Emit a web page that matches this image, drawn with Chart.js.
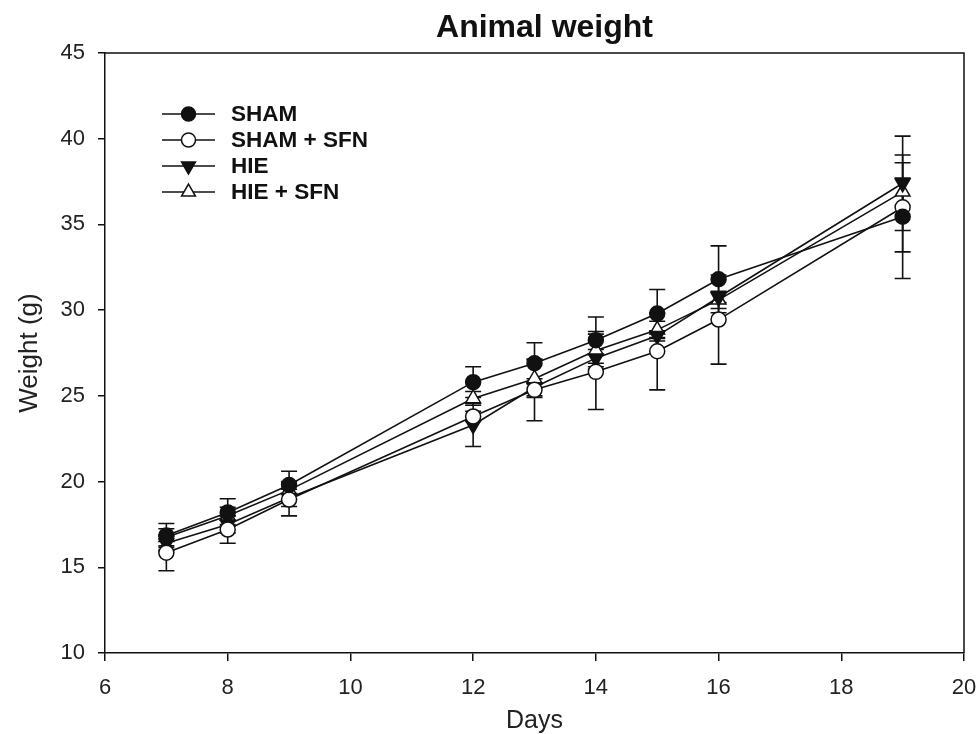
<!DOCTYPE html>
<html>
<head>
<meta charset="utf-8">
<title>Animal weight</title>
<script src="https://cdn.jsdelivr.net/npm/chart.js@4.4.1/dist/chart.umd.min.js"></script>
<style>
  html, body { margin: 0; padding: 0; background: #fff; }
  #wrap { width: 979px; height: 734px; position: relative; }
</style>
</head>
<body>
<div id="wrap"><canvas id="weightChart"></canvas></div>
<script>
const days = [7, 8, 9, 12, 13, 14, 15, 16, 19];

const sham = [16.85, 18.2, 19.8, 25.8, 26.9, 28.25, 29.8, 31.8, 35.45];
const shamSd = [0.7, 0.8, 0.8, 0.9, 1.2, 1.35, 1.4, 1.95, 3.6];

const shamSfn = [15.85, 17.2, 18.95, 23.8, 25.35, 26.4, 27.6, 29.45, 36.0];
const shamSfnSd = [1.05, 0.8, 0.95, 0.3, 1.8, 2.2, 2.25, 2.6, 2.6];

const hie = [16.4, 17.5, 19.05, 23.3, 25.5, 27.2, 28.5, 30.75, 37.4];
const hieSd = [0.4, 0.5, 0.5, 1.25, 0.5, 0.5, 0.3, 0.3, 2.75];

const hieSfn = [16.75, 18.0, 19.5, 24.85, 26.0, 27.65, 28.85, 30.6, 36.9];
const hieSfnSd = [0.5, 0.5, 0.5, 0.4, 1.1, 1.1, 0.5, 0.5, 0.8];

const xTicks = [6, 8, 10, 12, 14, 16, 18, 20];
const yTicks = [10, 15, 20, 25, 30, 35, 40, 45];

const FONT = "'Liberation Sans', Arial, Helvetica, sans-serif";
const INK = "#111";

function series(label, values, sd, style) {
  return Object.assign({
    label: label,
    data: days.map((d, i) => ({ x: d, y: values[i] })),
    sd: sd,
    borderColor: INK,
    borderWidth: 1.6,
    tension: 0,
    pointBorderColor: INK,
    pointBorderWidth: 1.5,
    pointHoverRadius: 7
  }, style);
}

// vertical SD bars with caps, drawn under the lines and symbols
const errorBars = {
  id: "errorBars",
  beforeDatasetsDraw(chart) {
    const { ctx, scales: { x, y } } = chart;
    ctx.save();
    ctx.strokeStyle = INK;
    ctx.lineWidth = 1.6;
    chart.data.datasets.forEach((ds, i) => {
      if (!chart.isDatasetVisible(i)) return;
      ds.data.forEach((p, j) => {
        const px = x.getPixelForValue(p.x);
        const hi = y.getPixelForValue(p.y + ds.sd[j]);
        const lo = y.getPixelForValue(p.y - ds.sd[j]);
        ctx.beginPath();
        ctx.moveTo(px, hi); ctx.lineTo(px, lo);
        ctx.moveTo(px - 8, hi); ctx.lineTo(px + 8, hi);
        ctx.moveTo(px - 8, lo); ctx.lineTo(px + 8, lo);
        ctx.stroke();
      });
    });
    ctx.restore();
  }
};

// closes the plot box on the top and right sides
const frame = {
  id: "frame",
  beforeDatasetsDraw(chart) {
    const { ctx, chartArea: a } = chart;
    ctx.save();
    ctx.strokeStyle = INK;
    ctx.lineWidth = 1.5;
    ctx.beginPath();
    ctx.moveTo(a.left, a.top);
    ctx.lineTo(a.right, a.top);
    ctx.lineTo(a.right, a.bottom);
    ctx.stroke();
    ctx.restore();
  }
};

// title over the plot box, plus a legend inside it: line segment with the symbol in the middle
const decorations = {
  id: "decorations",
  afterDraw(chart) {
    const { ctx, chartArea: a } = chart;
    ctx.save();
    ctx.fillStyle = INK;
    ctx.font = "bold 32px " + FONT;
    ctx.textAlign = "center";
    ctx.textBaseline = "middle";
    ctx.fillText("Animal weight", (a.left + a.right) / 2 + 10, 28);

    const x0 = a.left + 57, x1 = a.left + 110, mx = (x0 + x1) / 2;
    ctx.font = "bold 22.5px " + FONT;
    ctx.textAlign = "left";
    chart.data.datasets.forEach((ds, i) => {
      const yy = a.top + 61 + i * 26;
      ctx.strokeStyle = INK;
      ctx.lineWidth = 1.5;
      ctx.beginPath();
      ctx.moveTo(x0, yy); ctx.lineTo(x1, yy);
      ctx.stroke();
      ctx.fillStyle = ds.pointBackgroundColor;
      ctx.strokeStyle = ds.pointBorderColor;
      Chart.helpers.drawPoint(ctx, {
        pointStyle: ds.pointStyle,
        radius: ds.pointRadius - 0.5,
        rotation: ds.pointRotation || 0,
        borderWidth: 1.5
      }, mx, yy);
      ctx.fillStyle = INK;
      ctx.fillText(ds.label, x1 + 16, yy + 1);
    });
    ctx.restore();
  }
};

new Chart(document.getElementById("weightChart"), {
  type: "line",
  data: {
    datasets: [
      series("SHAM", sham, shamSd, { pointStyle: "circle", pointRadius: 7.5, pointBackgroundColor: INK }),
      series("SHAM + SFN", shamSfn, shamSfnSd, { pointStyle: "circle", pointRadius: 7.5, pointBackgroundColor: "#fff" }),
      series("HIE", hie, hieSd, { pointStyle: "triangle", pointRadius: 8.5, pointRotation: 180, pointBackgroundColor: INK }),
      series("HIE + SFN", hieSfn, hieSfnSd, { pointStyle: "triangle", pointRadius: 8.5, pointBackgroundColor: "#fff" })
    ]
  },
  options: {
    responsive: true,
    maintainAspectRatio: false,
    animation: false,
    layout: { padding: { top: 53, right: 15, left: 0, bottom: 0 } },
    plugins: {
      legend: { display: false },
      title: { display: false },
      tooltip: {
        callbacks: {
          label: function (context) {
            const sd = context.dataset.sd[context.dataIndex];
            return context.dataset.label + ": " + context.parsed.y + " ± " + sd + " g";
          }
        }
      }
    },
    scales: {
      x: {
        type: "linear",
        min: xTicks[0],
        max: xTicks[xTicks.length - 1],
        afterBuildTicks: (scale) => { scale.ticks = xTicks.map(v => ({ value: v })); },
        afterFit: (scale) => {
          scale.height = 81;
          // the end labels may hang over the plot edges; the layout padding covers them
          scale.paddingLeft = 0;
          scale.paddingRight = 0;
        },
        ticks: { color: "#222", font: { family: FONT, size: 22 }, padding: 14, maxRotation: 0 },
        grid: { drawOnChartArea: false, drawTicks: true, tickLength: 8, color: INK, lineWidth: 1.5 },
        border: { display: true, color: INK, width: 1.5 },
        title: { display: true, text: "Days", color: "#222", font: { family: FONT, size: 25 }, padding: { top: 3, bottom: -2 } }
      },
      y: {
        min: yTicks[0],
        max: yTicks[yTicks.length - 1],
        afterBuildTicks: (scale) => { scale.ticks = yTicks.map(v => ({ value: v })); },
        afterFit: (scale) => { scale.width = 105; },
        ticks: { color: "#222", font: { family: FONT, size: 22 }, padding: 13 },
        grid: { drawOnChartArea: false, drawTicks: true, tickLength: 7, color: INK, lineWidth: 1.5 },
        border: { display: true, color: INK, width: 1.5 },
        title: { display: true, text: "Weight (g)", color: "#222", font: { family: FONT, size: 26 }, padding: { top: 14 } }
      }
    }
  },
  plugins: [frame, errorBars, decorations]
});
</script>
</body>
</html>
